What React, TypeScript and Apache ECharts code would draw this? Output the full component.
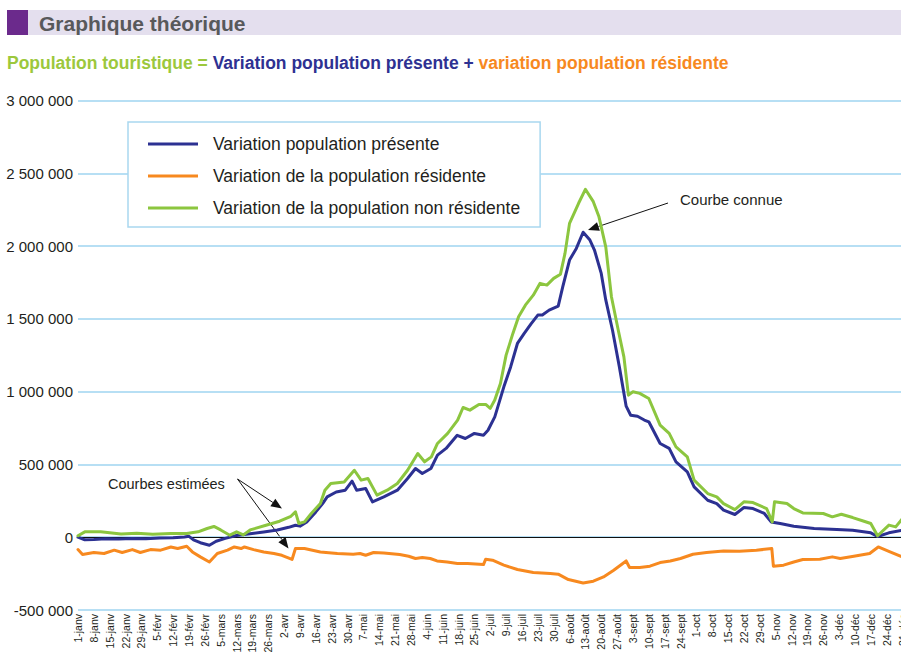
import React, { useEffect, useRef } from 'react';
import * as echarts from 'echarts';

const xLabels = [
  '1-janv', '8-janv', '15-janv', '22-janv', '29-janv', '5-févr', '12-févr', '19-févr', '26-févr',
  '5-mars', '12-mars', '19-mars', '26-mars', '2-avr', '9-avr', '16-avr', '23-avr', '30-avr',
  '7-mai', '14-mai', '21-mai', '28-mai', '4-juin', '11-juin', '18-juin', '25-juin',
  '2-juil', '9-juil', '16-juil', '23-juil', '30-juil', '6-août', '13-août', '20-août', '27-août',
  '3-sept', '10-sept', '17-sept', '24-sept', '1-oct', '8-oct', '15-oct', '22-oct', '29-oct',
  '5-nov', '12-nov', '19-nov', '26-nov', '3-déc', '10-déc', '17-déc', '24-déc', '31-déc',
];

const seriesNames = [
  'Variation population présente',
  'Variation de la population résidente',
  'Variation de la population non résidente',
];

// [day of year (0 = 1-janv), value]
const presente: [number, number][] = [
  [0, 0], [3, -18000], [7, -16000], [12, -10000], [18, -12000], [24, -8000], [30, -10000],
  [36, -6000], [42, -4000], [47, 2000], [49, 6000], [51, -18000], [54, -38000], [58, -55000],
  [61, -28000], [65, -8000], [70, 12000], [76, 24000], [82, 36000], [88, 50000], [93, 68000],
  [96, 82000], [98, 76000], [101, 105000], [105, 174000], [108, 231000], [110, 277000],
  [114, 311000], [118, 323000], [121, 385000], [123, 323000], [127, 335000], [130, 243000],
  [135, 277000], [141, 323000], [145.5, 403000], [149, 472000], [152, 438000],
  [155.8, 472000], [158.7, 564000], [162.5, 610000], [167.4, 700000], [171, 678000],
  [175, 713000], [179, 701000], [181, 735000], [184, 827000], [188, 1033000], [191, 1170000],
  [194, 1331000], [197, 1400000], [200, 1465000], [203, 1526000], [205, 1526000],
  [208, 1560000], [212, 1588000], [214, 1720000], [217, 1904000], [220, 1984000],
  [223, 2095000], [226, 2041000], [228, 1973000], [231, 1812000], [233, 1630000],
  [236, 1420000], [239, 1170000], [242, 900000], [244, 838000], [247, 831000], [250, 805000],
  [252, 793000], [257, 644000], [261, 610000], [264, 518000], [269, 449000], [272, 346000],
  [278, 254000], [282, 231000], [285, 186000], [290, 156000], [294, 204000], [298, 197000],
  [303, 163000], [306, 105000], [310, 94000], [316, 75000], [325, 60000], [335, 53000],
  [342, 48000], [350, 30000], [353, 5000], [358, 30000], [364, 48000],
];

const residente: [number, number][] = [
  [0, -85000], [2, -119000], [7, -105000], [11.5, -112000], [16, -89000], [19.5, -105000],
  [24, -85000], [27.5, -105000], [32, -85000], [36.5, -89000], [41, -67000], [44, -78000],
  [48, -62000], [50.5, -101000], [54, -135000], [58, -170000], [61.5, -112000], [66, -89000],
  [69, -67000], [72, -78000], [73.5, -67000], [77.5, -85000], [82, -101000], [86.5, -112000],
  [90, -124000], [94.5, -153000], [96, -78000], [100, -78000], [107, -101000],
  [114.5, -112000], [121.5, -117000], [124.5, -112000], [127, -124000], [130.5, -105000],
  [135, -108000], [142, -119000], [146, -131000], [149, -146000], [152, -140000],
  [155.5, -146000], [158.5, -163000], [163, -170000], [167.5, -181000], [172, -181000],
  [179, -188000], [180, -151000], [183, -158000], [188, -192000], [194, -222000],
  [201, -243000], [208.5, -250000], [212, -254000], [216.5, -291000], [223, -314000],
  [227.5, -302000], [232, -273000], [236.5, -227000], [242, -163000], [243.5, -208000],
  [248, -208000], [252.5, -199000], [257, -174000], [261.5, -163000], [266, -146000],
  [271.5, -117000], [277.5, -105000], [285, -94000], [292, -97000], [299.5, -89000],
  [306.3, -78000], [307, -199000], [311.5, -192000], [316, -170000], [320, -153000],
  [327.5, -151000], [333, -135000], [336.5, -146000], [342.5, -131000], [349.5, -112000],
  [353.3, -67000], [358.5, -101000], [364, -135000],
];

const nonResidente: [number, number][] = [
  [0, 10000], [3, 37000], [10, 37000], [19, 22000], [26, 28000], [33, 20000], [41, 26000],
  [48, 26000], [53, 37000], [57, 60000], [60, 74000], [63, 50000], [67, 14000], [70, 37000],
  [73, 16000], [76, 50000], [83, 82000], [89, 110000], [94, 144000], [96, 174000],
  [97.5, 94000], [100, 105000], [103, 163000], [107, 231000], [109, 323000],
  [111.6, 369000], [117.5, 380000], [122, 460000], [125, 392000], [128, 403000],
  [132, 289000], [136.5, 323000], [141, 369000], [145.5, 460000], [150, 575000],
  [153, 518000], [156, 552000], [158.7, 644000], [163.2, 713000], [167.6, 804000],
  [170, 891000], [173, 873000], [177, 912000],
  [180, 912000], [182, 885000], [184, 942000], [186.5, 1056000], [189, 1251000],
  [192, 1400000], [194.5, 1514000], [197.5, 1594000], [201, 1663000], [204, 1744000],
  [207, 1732000], [210, 1778000], [213, 1807000], [215, 1950000], [217, 2156000],
  [221, 2294000], [224, 2390000], [227.5, 2305000], [230, 2201000], [233, 1995000],
  [235.5, 1652000], [238.5, 1423000], [241, 1239000], [243, 976000], [245, 999000],
  [248, 988000], [252, 953000], [257, 770000], [261, 713000], [264, 621000], [269, 552000],
  [272, 392000], [278, 300000], [282, 277000], [285, 231000], [290, 190000], [294, 243000],
  [298, 238000], [304, 197000], [306.5, 105000], [307.5, 243000], [313, 231000],
  [316, 197000], [320, 167000], [329, 163000], [333, 140000], [337, 158000], [342, 135000],
  [347, 110000], [350, 94000], [353, 10000], [358, 83000], [361, 71000], [364, 129000],
];

const FF = '"Liberation Sans", Arial, Helvetica, sans-serif';
const BLUE = '#2c3192';
const ORANGE = '#f7891f';
const GREEN = '#8cc63f';

function fmtY(v: number): string {
  const s = String(Math.abs(v)).replace(/\B(?=(\d{3})+(?!\d))/g, ' ');
  return v < 0 ? '-' + s : s;
}

function arrow(x1: number, y1: number, x2: number, y2: number, len = 11, half = 4.5): any[] {
  const dx = x2 - x1;
  const dy = y2 - y1;
  const d = Math.sqrt(dx * dx + dy * dy);
  const ux = dx / d;
  const uy = dy / d;
  const bx = x2 - ux * len;
  const by = y2 - uy * len;
  const px = -uy * half;
  const py = ux * half;
  return [
    {
      type: 'line',
      silent: true,
      shape: { x1, y1, x2: bx, y2: by },
      style: { stroke: '#111', lineWidth: 1 },
    },
    {
      type: 'polygon',
      silent: true,
      shape: { points: [[x2, y2], [bx + px, by + py], [bx - px, by - py]] },
      style: { fill: '#111' },
    },
  ];
}

export default function App() {
  const ref = useRef<HTMLDivElement>(null);

  useEffect(() => {
    document.body.style.overflow = 'hidden';
    const chart = echarts.init(ref.current!, null, { renderer: 'svg' });
    const option: any = {
      animation: false,
      backgroundColor: '#fff',
      textStyle: { fontFamily: FF },
      grid: {
        left: 78,
        top: 100.5,
        width: 824.5,
        height: 509.5,
        containLabel: false,
        outerBoundsMode: 'none',
      },
      legend: {
        data: seriesNames,
        orient: 'vertical',
        left: 128,
        top: 122,
        padding: [13, 20, 10, 20],
        itemGap: 14,
        itemWidth: 50,
        itemHeight: 3,
        icon: 'rect',
        backgroundColor: '#fff',
        borderColor: '#a9d7ef',
        borderWidth: 1.5,
        borderRadius: 0,
        textStyle: { fontSize: 17.5, color: '#231f20', fontFamily: FF, padding: [0, 0, 0, 10] },
        selectedMode: false,
        z: 10,
      },
      xAxis: {
        type: 'value',
        min: 0,
        max: 364,
        interval: 7,
        axisLine: { show: false, onZero: false },
        axisTick: { show: false },
        splitLine: { show: false },
        axisLabel: {
          rotate: 90,
          margin: 4,
          fontSize: 10.5,
          color: '#231f20',
          fontFamily: FF,
          showMinLabel: true,
          showMaxLabel: true,
          formatter: (v: number) => xLabels[Math.round(v / 7)] ?? '',
        },
      },
      yAxis: {
        type: 'value',
        min: -500000,
        max: 3000000,
        interval: 500000,
        axisLine: { show: false },
        axisTick: { show: false },
        splitLine: { show: true, lineStyle: { color: '#9fd4f0', width: 1.5 } },
        axisLabel: { fontSize: 15, color: '#231f20', margin: 5, fontFamily: FF, formatter: fmtY },
      },
      series: [
        {
          name: seriesNames[0],
          type: 'line',
          data: presente,
          symbol: 'none',
          showSymbol: false,
          lineStyle: { color: BLUE, width: 3, join: 'round', cap: 'round' },
          itemStyle: { color: BLUE },
          markLine: {
            silent: true,
            symbol: ['none', 'none'],
            label: { show: false },
            lineStyle: { color: '#111', width: 1, type: 'solid' },
            data: [{ yAxis: 0 }],
            z: 1,
          },
          z: 3,
        },
        {
          name: seriesNames[1],
          type: 'line',
          data: residente,
          symbol: 'none',
          showSymbol: false,
          lineStyle: { color: ORANGE, width: 3, join: 'round', cap: 'round' },
          itemStyle: { color: ORANGE },
          z: 3,
        },
        {
          name: seriesNames[2],
          type: 'line',
          data: nonResidente,
          symbol: 'none',
          showSymbol: false,
          lineStyle: { color: GREEN, width: 3, join: 'round', cap: 'round' },
          itemStyle: { color: GREEN },
          z: 3,
        },
      ],
      graphic: [
        {
          type: 'rect',
          silent: true,
          shape: { x: 7, y: 10, width: 900, height: 25 },
          style: { fill: '#e4dfee' },
        },
        {
          type: 'rect',
          silent: true,
          shape: { x: 7, y: 10, width: 21, height: 25 },
          style: { fill: '#6b2a8c' },
        },
        {
          type: 'text',
          silent: true,
          x: 39,
          y: 23,
          style: {
            text: 'Graphique théorique',
            fontSize: 21,
            fontWeight: 'bold',
            fontFamily: FF,
            fill: '#58595b',
            verticalAlign: 'middle',
          },
        },
        {
          type: 'text',
          silent: true,
          x: 7,
          y: 63,
          style: {
            text:
              '{g|Population touristique =} {b|Variation population présente +} {o|variation population résidente}',
            fontSize: 17.5,
            fontWeight: 'bold',
            fontFamily: FF,
            verticalAlign: 'middle',
            rich: {
              g: { fill: '#9cc83c', fontSize: 17.5, fontWeight: 'bold', fontFamily: FF },
              b: { fill: '#2e3192', fontSize: 17.5, fontWeight: 'bold', fontFamily: FF },
              o: { fill: '#f7891f', fontSize: 17.5, fontWeight: 'bold', fontFamily: FF },
            },
          },
        },
        {
          type: 'text',
          silent: true,
          x: 680,
          y: 199,
          style: { text: 'Courbe connue', fontSize: 15, fontFamily: FF, fill: '#231f20', verticalAlign: 'middle' },
        },
        ...arrow(668, 203, 588, 230),
        {
          type: 'text',
          silent: true,
          x: 108,
          y: 484,
          style: { text: 'Courbes estimées', fontSize: 14.5, fontFamily: FF, fill: '#231f20', verticalAlign: 'middle' },
        },
        ...arrow(237.5, 479, 282, 508.5),
        ...arrow(237.5, 479, 288.5, 548.5),
      ],
    };
    chart.setOption(option);
    return () => chart.dispose();
  }, []);

  return (
    <div
      ref={ref}
      style={{ position: 'fixed', left: 0, top: 0, width: 901, height: 653, background: '#fff' }}
    />
  );
}
